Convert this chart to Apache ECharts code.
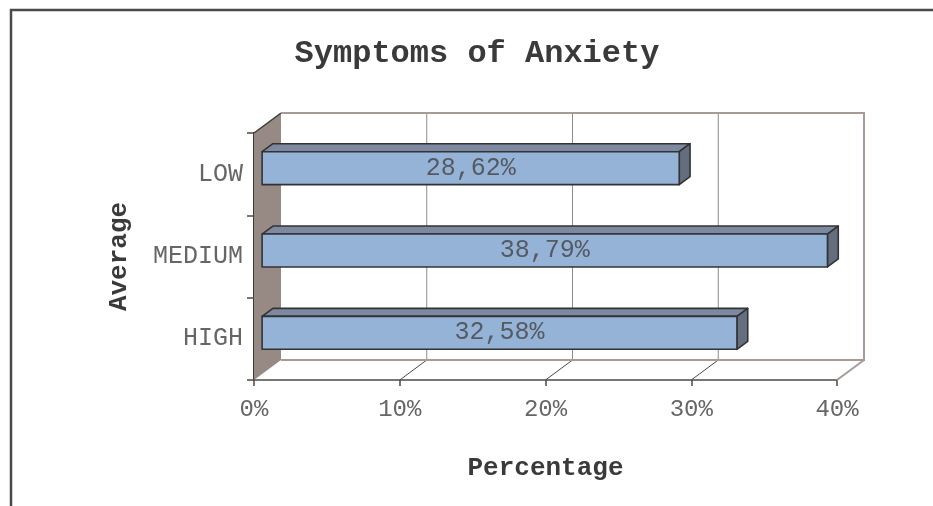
<!DOCTYPE html>
<html>
<head>
<meta charset="utf-8">
<script src="https://cdn.jsdelivr.net/npm/echarts@6/dist/echarts.min.js"></script>
<style>
  html, body { margin: 0; padding: 0; background: #ffffff; }
  #chart { width: 933px; height: 506px; }
</style>
</head>
<body>
<div id="chart"></div>
<script>
// Anxiety level categories, bottom to top
const categories = ['HIGH', 'MEDIUM', 'LOW'];
// Share of respondents per level (%)
const percentages = [32.58, 38.79, 28.62];
// Value axis ticks (%)
const xTicks = [0, 10, 20, 30, 40];

const FONT = "'Liberation Mono', 'Courier New', monospace";
// Pseudo-3D depth offset of the back wall, in pixels
const DX = 27, DY = -20;
// Bar front face sits at this fraction of the depth, bar depth fraction
const BAR_FRONT = 0.3, BAR_DEPTH = 0.4, BAR_THICK = 0.4;

const chart = echarts.init(document.getElementById('chart'), null, { renderer: 'canvas' });

function fmt(v) {
  return v.toFixed(2).replace('.', ',') + '%';
}

// Walls, floor and gridlines of the 3D box
function renderBox(params, api) {
  const cs = params.coordSys;
  const x0 = cs.x, y0 = cs.y, x1 = cs.x + cs.width, y1 = cs.y + cs.height;
  const children = [];
  // left side wall
  children.push({
    type: 'polygon',
    shape: { points: [[x0, y0], [x0 + DX, y0 + DY], [x0 + DX, y1 + DY], [x0, y1]] },
    style: { fill: '#978984', stroke: null }
  });
  children.push({
    type: 'line',
    shape: { x1: x0, y1: y0, x2: x0 + DX, y2: y0 + DY },
    style: { stroke: '#3a3a3a', lineWidth: 1.5 }
  });
  // back wall gridlines and floor lines
  xTicks.forEach(function (t) {
    const px = api.coord([t, 0])[0];
    if (t > xTicks[0] && t < xTicks[xTicks.length - 1]) {
      children.push({
        type: 'line',
        shape: { x1: px + DX, y1: y0 + DY, x2: px + DX, y2: y1 + DY },
        style: { stroke: '#8c8c8c', lineWidth: 1 }
      });
      children.push({
        type: 'line',
        shape: { x1: px, y1: y1, x2: px + DX, y2: y1 + DY },
        style: { stroke: '#4a4a4a', lineWidth: 1 }
      });
    }
  });
  const wall = '#a89b96';
  // back wall frame
  children.push({
    type: 'polyline',
    shape: { points: [[x0 + DX, y0 + DY], [x1 + DX, y0 + DY], [x1 + DX, y1 + DY], [x0 + DX, y1 + DY]] },
    style: { stroke: wall, lineWidth: 2, fill: null }
  });
  // right floor edge
  children.push({
    type: 'line',
    shape: { x1: x1, y1: y1, x2: x1 + DX, y2: y1 + DY },
    style: { stroke: wall, lineWidth: 2 }
  });
  return { type: 'group', children: children };
}

// 3D bars: front face, top face, right face and value label
function renderBar(params, api) {
  const val = api.value(0);
  const cat = api.value(1);
  const start = api.coord([0, cat]);
  const end = api.coord([val, cat]);
  const band = api.size([0, 1])[1];
  const h = band * BAR_THICK;
  const fx = BAR_FRONT * DX, fy = BAR_FRONT * DY;
  const bx = BAR_DEPTH * DX, by = BAR_DEPTH * DY;
  const xl = start[0] + fx, xr = end[0] + fx;
  const yt = start[1] + fy - h / 2, yb = start[1] + fy + h / 2;
  const edge = { stroke: '#333333', lineWidth: 1.6, lineJoin: 'round' };
  return {
    type: 'group',
    children: [
      {
        type: 'polygon',
        shape: { points: [[xl, yt], [xr, yt], [xr + bx, yt + by], [xl + bx, yt + by]] },
        style: Object.assign({ fill: '#7d89a1' }, edge)
      },
      {
        type: 'polygon',
        shape: { points: [[xr, yt], [xr + bx, yt + by], [xr + bx, yb + by], [xr, yb]] },
        style: Object.assign({ fill: '#646e7e' }, edge)
      },
      {
        type: 'rect',
        shape: { x: xl, y: yt, width: xr - xl, height: yb - yt },
        style: Object.assign({ fill: '#95b3d7' }, edge)
      },
      {
        type: 'text',
        style: {
          text: fmt(val),
          x: (xl + xr) / 2,
          y: (yt + yb) / 2,
          align: 'center',
          verticalAlign: 'middle',
          fill: '#555a62',
          fontFamily: FONT,
          fontSize: 25
        }
      }
    ]
  };
}

const option = {
  animation: false,
  backgroundColor: '#ffffff',
  graphic: [
    {
      type: 'rect',
      shape: { x: 11, y: 10, width: 1000, height: 600 },
      style: { fill: null, stroke: '#4a4a4a', lineWidth: 2.5 },
      z: 100
    },
    {
      type: 'text',
      x: 477,
      y: 54,
      style: {
        text: 'Symptoms of Anxiety',
        align: 'center',
        verticalAlign: 'middle',
        fill: '#3a3a3a',
        fontFamily: FONT,
        fontWeight: 'bold',
        fontSize: 32
      }
    }
  ],
  grid: { left: 254, right: 96, top: 133, bottom: 126, containLabel: false },
  xAxis: {
    type: 'value',
    min: 0,
    max: 40,
    interval: 10,
    name: 'Percentage',
    nameLocation: 'middle',
    nameGap: 75,
    nameTextStyle: { fontFamily: FONT, fontWeight: 'bold', fontSize: 26, color: '#3a3a3a' },
    axisLine: { show: true, lineStyle: { color: '#4a4a4a', width: 1.5 } },
    axisTick: { show: true, length: 6, lineStyle: { color: '#4a4a4a', width: 1.5 } },
    axisLabel: {
      formatter: '{value}%',
      margin: 18,
      fontFamily: FONT,
      fontSize: 24,
      color: '#666666'
    },
    splitLine: { show: false }
  },
  yAxis: {
    type: 'category',
    data: categories,
    name: 'Average',
    nameLocation: 'middle',
    nameGap: 122,
    nameRotate: 90,
    nameTextStyle: { fontFamily: FONT, fontWeight: 'bold', fontSize: 26, color: '#3a3a3a' },
    axisLine: { show: true, lineStyle: { color: '#3a3a3a', width: 2 } },
    axisTick: { show: true, length: 7, lineStyle: { color: '#4a4a4a', width: 1.5 } },
    axisLabel: {
      margin: 11,
      fontFamily: FONT,
      fontSize: 25,
      color: '#666666'
    },
    splitLine: { show: false }
  },
  series: [
    {
      type: 'custom',
      renderItem: renderBox,
      data: [[0, 0]],
      z: 1,
      silent: true
    },
    {
      type: 'custom',
      renderItem: renderBar,
      encode: { x: 0, y: 1 },
      data: percentages.map(function (v, i) { return [v, i]; }),
      z: 3
    }
  ]
};

chart.setOption(option);
</script>
</body>
</html>
